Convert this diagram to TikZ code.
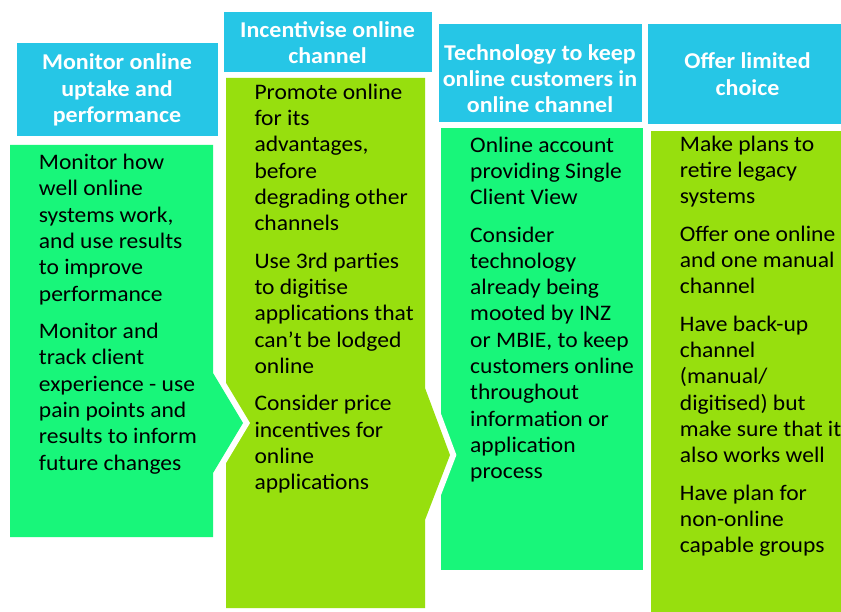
\documentclass[tikz,border=0pt]{standalone}
\usepackage{fontspec}
\setmainfont{Carlito}[FakeStretch=1.06]

\definecolor{headcyan}{RGB}{38,198,230}
\definecolor{bodygreen}{RGB}{24,246,122}
\definecolor{bodylime}{RGB}{151,223,14}

\tikzset{
  headbox/.style={fill=headcyan, draw=white, line width=1pt, inner sep=0pt},
  headtext/.style={inner sep=0pt, text=white, align=center,
    font=\fontsize{22.6}{26.3}\selectfont\bfseries},
  bodytext/.style={anchor=north west, inner sep=0pt, align=left, text=black,
    font=\fontsize{22.2}{26.3}\selectfont},
  halo/.style={draw=white, line width=12pt, line join=miter},
}

\newcommand{\pgap}{\\[11.1pt]}

\begin{document}
\begin{tikzpicture}[x=1pt, y=-1pt]
  \useasboundingbox (0,0) rectangle (841,612);
  \clip (0,0) rectangle (841,612);

  % column bodies, back to front
  \fill[bodylime] (651,131) rectangle (850,620);
  \fill[bodygreen] (441,128) rectangle (643,570);
  \draw[halo] (226,78) -- (425,78) -- (425,388) -- (450,455) -- (425,520)
    -- (425,608) -- (226,608) -- cycle;
  \fill[bodylime] (226,78) -- (425,78) -- (425,388) -- (450,455) -- (425,520)
    -- (425,608) -- (226,608) -- cycle;
  \draw[halo] (10,145) -- (213,145) -- (213,373) -- (243,423) -- (213,473)
    -- (213,537) -- (10,537) -- cycle;
  \fill[bodygreen] (10,145) -- (213,145) -- (213,373) -- (243,423) -- (213,473)
    -- (213,537) -- (10,537) -- cycle;

  % column headings
  \node[headbox, minimum width=202pt, minimum height=94pt] (h1) at (117,90) {};
  \node[headbox, minimum width=209pt, minimum height=61pt] (h2) at (327.5,42.5) {};
  \node[headbox, minimum width=204pt, minimum height=99pt] (h3) at (540,73.5) {};
  \node[headbox, minimum width=201pt, minimum height=101pt] (h4) at (747.5,74.5) {};
  \node[headtext] (h1t) at (117,90) {Monitor online\\uptake and\\performance};
  \node[headtext] (h2t) at (327.5,42.5) {Incentivise online\\channel};
  \node[headtext] (h3t) at (540,78.5) {Technology to keep\\online customers in\\online channel};
  \node[headtext] (h4t) at (747.5,74) {Offer limited\\choice};

  % column texts
  \node[bodytext] (t1) at (38.7,151)
    {\strut Monitor how\\well online\\systems work,\\and use results\\to improve\\performance\pgap
     Monitor and\\track client\\experience - use\\pain points and\\results to inform\\future changes};
  \node[bodytext] (t2) at (254.3,80.7)
    {\strut Promote online\\for its\\advantages,\\before\\degrading other\\channels\pgap
     Use 3rd parties\\to digitise\\applications that\\can't be lodged\\online\pgap
     Consider price\\incentives for\\online\\applications};
  \node[bodytext] (t3) at (470,133.4)
    {\strut Online account\\providing Single\\Client View\pgap
     Consider\\technology\\already being\\mooted by INZ\\or MBIE, to keep\\customers online\\throughout\\information or\\application\\process};
  \node[bodytext] (t4) at (679.7,132.7)
    {\strut Make plans to\\retire legacy\\systems\pgap
     Offer one online\\and one manual\\channel\pgap
     Have back-up\\channel\\(manual/\\digitised) but\\make sure that it\\also works well\pgap
     Have plan for\\non-online\\capable groups};
\end{tikzpicture}
\end{document}
